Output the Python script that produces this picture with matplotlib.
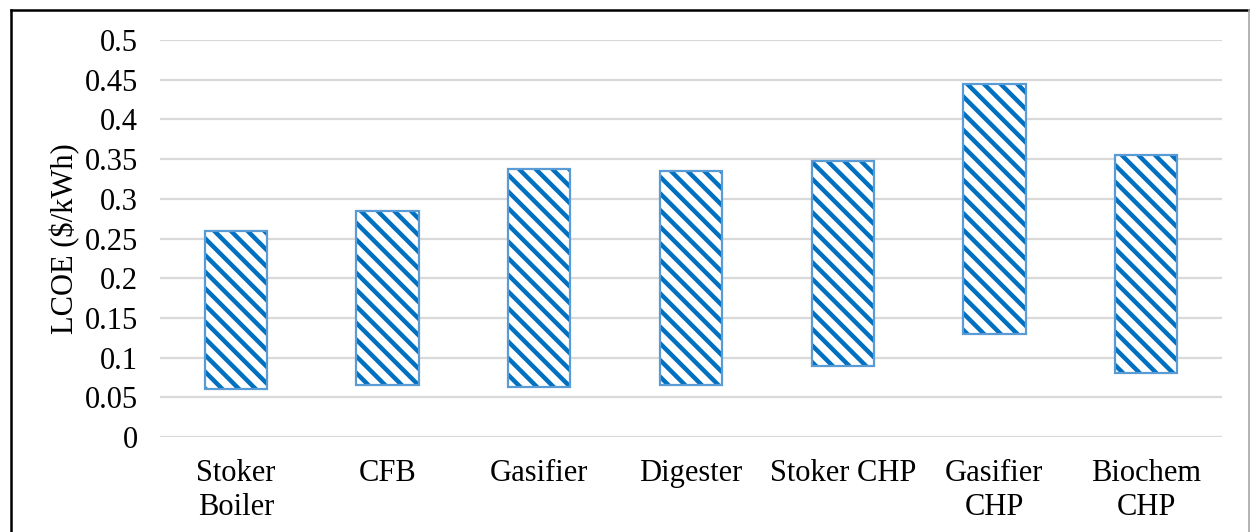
import matplotlib
matplotlib.use("Agg")
import matplotlib.pyplot as plt
from matplotlib.lines import Line2D

# LCOE range per technology ($/kWh)
categories = ["Stoker\nBoiler", "CFB", "Gasifier", "Digester", "Stoker CHP",
              "Gasifier\nCHP", "Biochem\nCHP"]
lcoe_low = [0.06, 0.065, 0.063, 0.065, 0.09, 0.13, 0.08]
lcoe_high = [0.26, 0.285, 0.337, 0.335, 0.348, 0.445, 0.355]
yticks = [0, 0.05, 0.1, 0.15, 0.2, 0.25, 0.3, 0.35, 0.4, 0.45, 0.5]
ytick_labels = ["0", "0.05", "0.1", "0.15", "0.2", "0.25", "0.3", "0.35", "0.4", "0.45", "0.5"]

plt.rcParams["font.family"] = ["Liberation Serif", "DejaVu Serif"]
plt.rcParams["hatch.linewidth"] = 3.2

FS = 22
W, H = 1250, 532
fig = plt.figure(figsize=(W / 100, H / 100), dpi=100)
ax = fig.add_axes([160 / W, 1 - 437 / H, (1222 - 160) / W, (437 - 40) / H])

x = list(range(len(categories)))
heights = [h - l for l, h in zip(lcoe_low, lcoe_high)]
# hatched fill (dark blue stripes), then the lighter outline on top
ax.bar(x, heights, bottom=lcoe_low, width=0.41, facecolor="white",
       edgecolor="#0070C0", linewidth=0, hatch="\\\\", zorder=3)
ax.bar(x, heights, bottom=lcoe_low, width=0.41, facecolor="none",
       edgecolor="#5B9BD5", linewidth=1.6, zorder=4)

ax.set_xlim(-0.5, len(categories) - 0.5)
ax.set_ylim(0, 0.5)
ax.set_yticks(yticks)
ax.set_yticklabels(ytick_labels, fontsize=FS)
ax.set_xticks(x)
ax.set_xticklabels(categories, fontsize=FS, linespacing=1.22)
ax.tick_params(axis="both", length=0)
ax.tick_params(axis="y", pad=16)
ax.tick_params(axis="x", pad=16)
ax.grid(axis="y", color="#D9D9D9", linewidth=1.6, zorder=0)
ax.set_axisbelow(True)
for s in ax.spines.values():
    s.set_visible(False)
ax.set_ylabel("LCOE ($/kWh)", fontsize=FS, labelpad=3)

# Chart frame
fig.add_artist(Line2D([10.5 / W, 10.5 / W], [0, 1 - 10 / H], color="black", linewidth=1.8,
                      transform=fig.transFigure))
fig.add_artist(Line2D([10.5 / W, 1249 / W], [1 - 10 / H, 1 - 10 / H], color="black", linewidth=1.8,
                      transform=fig.transFigure))
fig.add_artist(Line2D([1249 / W, 1249 / W], [0, 1 - 10 / H], color="#A6A6A6", linewidth=1.2,
                      transform=fig.transFigure))

fig.savefig("out.png", dpi=100, facecolor="white")
